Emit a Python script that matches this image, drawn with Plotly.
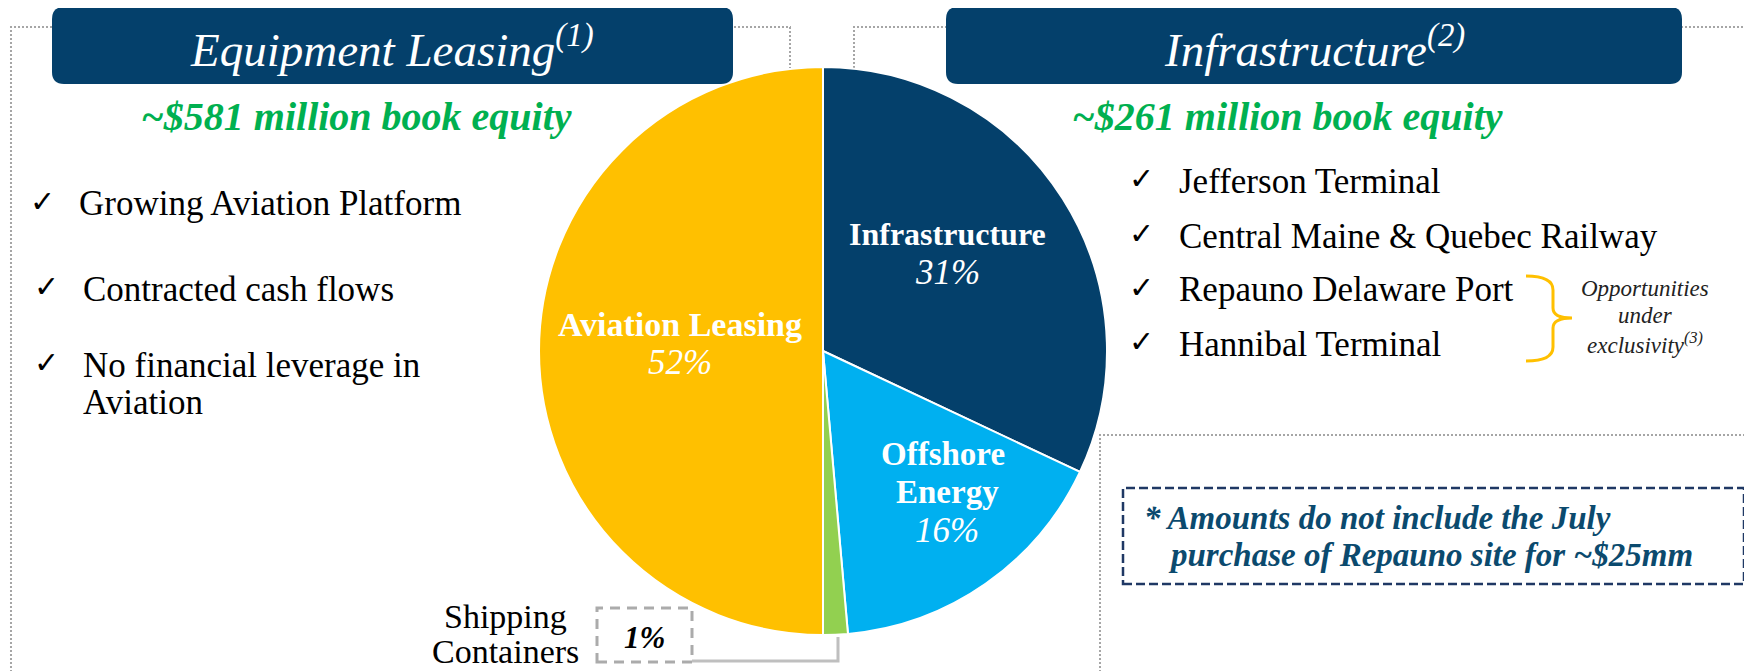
import plotly.graph_objects as go

W, H = 1752, 671
OFF = 8  # the page body adds an 8px margin; compensate so content lands where intended

# ---------------- data ----------------
segments = ["Infrastructure", "Offshore Energy", "Shipping Containers", "Aviation Leasing"]
shares = [32.0, 16.6, 1.4, 50.0]          # slice sizes as drawn
pct_labels = ["31%", "16%", "1%", "52%"]   # labels printed on the slices
slice_colors = ["#04406B", "#00B0F0", "#92D050", "#FFC000"]

book_equity = [581, 261]                   # $ million
section_titles = ["Equipment Leasing", "Infrastructure"]
section_notes = ["(1)", "(2)"]

left_bullets = ["Growing Aviation Platform", "Contracted cash flows",
                "No financial leverage in", "Aviation"]
right_bullets = ["Jefferson Terminal", "Central Maine & Quebec Railway",
                 "Repauno Delaware Port", "Hannibal Terminal"]
bracket_note = ["Opportunities", "under", "exclusivity<sup>(3)</sup>"]
footnote = ["* Amounts do not include the July", "purchase of Repauno site for ~$25mm"]

NAVY = "#04406B"
GREEN = "#00B050"
SERIF = "Liberation Serif, Times New Roman, serif"


def px(x):
    return (x - OFF) / W


def py(y):
    return 1 - (y - OFF) / H


fig = go.Figure()

# pie: centre (823, 351), radius 284 px
cx, cy, r = 823, 351, 284
fig.add_trace(go.Pie(
    labels=segments, values=shares, sort=False, direction="clockwise", rotation=0,
    marker=dict(colors=slice_colors, line=dict(color="white", width=2)),
    textinfo="none", hoverinfo="label+percent", showlegend=False,
    domain=dict(x=[px(cx - r), px(cx + r)], y=[py(cy + r), py(cy - r)]),
))

shapes = []
annotations = []


def line_seg(pts, color="#A6A6A6", width=2, dash="2px,2px", layer="below"):
    path = "M " + " L ".join(f"{px(x):.5f},{py(y):.5f}" for x, y in pts)
    shapes.append(dict(type="path", xref="paper", yref="paper", path=path,
                       line=dict(color=color, width=width, dash=dash), layer=layer))


def rounded_box(x0, y0, x1, y1, rad, fill):
    p = (f"M {px(x0+rad)},{py(y0)} L {px(x1-rad)},{py(y0)} Q {px(x1)},{py(y0)} {px(x1)},{py(y0+rad)} "
         f"L {px(x1)},{py(y1-rad)} Q {px(x1)},{py(y1)} {px(x1-rad)},{py(y1)} "
         f"L {px(x0+rad)},{py(y1)} Q {px(x0)},{py(y1)} {px(x0)},{py(y1-rad)} "
         f"L {px(x0)},{py(y0+rad)} Q {px(x0)},{py(y0)} {px(x0+rad)},{py(y0)} Z")
    shapes.append(dict(type="path", xref="paper", yref="paper", path=p,
                       fillcolor=fill, line=dict(width=0), layer="above"))


def text(x, y, s, size, color="black", xanchor="center", family=SERIF, yanchor="middle"):
    annotations.append(dict(x=px(x), y=py(y), xref="paper", yref="paper", text=s,
                            showarrow=False, xanchor=xanchor, yanchor=yanchor,
                            font=dict(family=family, size=size, color=color)))


# dotted section outlines
line_seg([(11, 680), (11, 27), (790, 27), (790, 68)])
line_seg([(854, 68), (854, 27), (1749, 27), (1749, 435)])
line_seg([(1100, 680), (1100, 435), (1749, 435)])

# headers
rounded_box(52, 7, 733, 84, 12, NAVY)
rounded_box(946, 7, 1682, 84, 12, NAVY)
text(392, 46, f"<i>{section_titles[0]}<sup>{section_notes[0]}</sup></i>", 47, "white")
text(1314, 46, f"<i>{section_titles[1]}<sup>{section_notes[1]}</sup></i>", 47, "white")

# book equity
text(356, 116, f"<b><i>~${book_equity[0]} million book equity</i></b>", 40, GREEN)
text(1287, 116, f"<b><i>~${book_equity[1]} million book equity</i></b>", 40, GREEN)

# left bullets
left_y = [204, 289, 365, 402]
left_x = [77, 81, 81, 81]
for i, (s, y) in enumerate(zip(left_bullets, left_y)):
    text(left_x[i], y, s, 35, xanchor="left")
    if i < 3:
        text(left_x[i] - 35, y - 3, "✓", 30, family="DejaVu Sans")

# right bullets
right_y = [181, 236, 290, 344]
for s, y in zip(right_bullets, right_y):
    text(1177, y, s, 35, xanchor="left")
    text(1141, y - 3, "✓", 30, family="DejaVu Sans")

# bracket
bx0, bx1, btip, by0, bym, by1 = 1526, 1553, 1572, 276, 318, 361
bp = (f"M {px(bx0)},{py(by0)} Q {px(bx1)},{py(by0)} {px(bx1)},{py(by0+14)} "
      f"L {px(bx1)},{py(bym-10)} Q {px(bx1)},{py(bym)} {px(btip)},{py(bym)} "
      f"Q {px(bx1)},{py(bym)} {px(bx1)},{py(bym+10)} "
      f"L {px(bx1)},{py(by1-14)} Q {px(bx1)},{py(by1)} {px(bx0)},{py(by1)}")
shapes.append(dict(type="path", xref="paper", yref="paper", path=bp,
                   line=dict(color="#FFC000", width=3)))
for s, y in zip(bracket_note, [288, 315, 343]):
    text(1645, y, f"<i>{s}</i>", 23, "#222222")

# pie slice labels
lab = {
    0: [(947, 234, "<b>Infrastructure</b>", 32), (947, 272, f"<i>{pct_labels[0]}</i>", 35)],
    1: [(943, 454, "<b>Offshore</b>", 33), (947, 492, "<b>Energy</b>", 33), (947, 530, f"<i>{pct_labels[1]}</i>", 35)],
    3: [(680, 324, f"<b>{segments[3]}</b>", 34), (680, 362, f"<i>{pct_labels[3]}</i>", 35)],
}
for k, items in lab.items():
    for x, y, s, fs in items:
        text(x, y, s, fs, "white")

# shipping containers callout
text(505, 616, "Shipping", 34)
text(505, 651, "Containers", 34)
shapes.append(dict(type="rect", xref="paper", yref="paper",
                   x0=px(597), x1=px(692), y0=py(662), y1=py(608),
                   line=dict(color="#ABABAB", width=3, dash="10px,7px")))
text(644, 637, f"<b><i>{pct_labels[2]}</i></b>", 31)
line_seg([(692, 661), (838, 661), (838, 637)], color="#BFBFBF", width=3, dash="solid", layer="above")

# footnote box
shapes.append(dict(type="rect", xref="paper", yref="paper",
                   x0=px(1123), x1=px(1744), y0=py(584), y1=py(488),
                   line=dict(color="#1F3864", width=2.5, dash="9px,4px")))
text(1142, 518, f"<b><i>{footnote[0]}</i></b>", 33, "#0B4A6E", xanchor="left")
text(1166, 555, f"<b><i>{footnote[1]}</i></b>", 33, "#0B4A6E", xanchor="left")

fig.update_layout(
    width=W, height=H, margin=dict(l=0, r=0, t=0, b=0),
    paper_bgcolor="white", plot_bgcolor="white",
    shapes=shapes, annotations=annotations, showlegend=False,
)

fig.write_html("out.html")
